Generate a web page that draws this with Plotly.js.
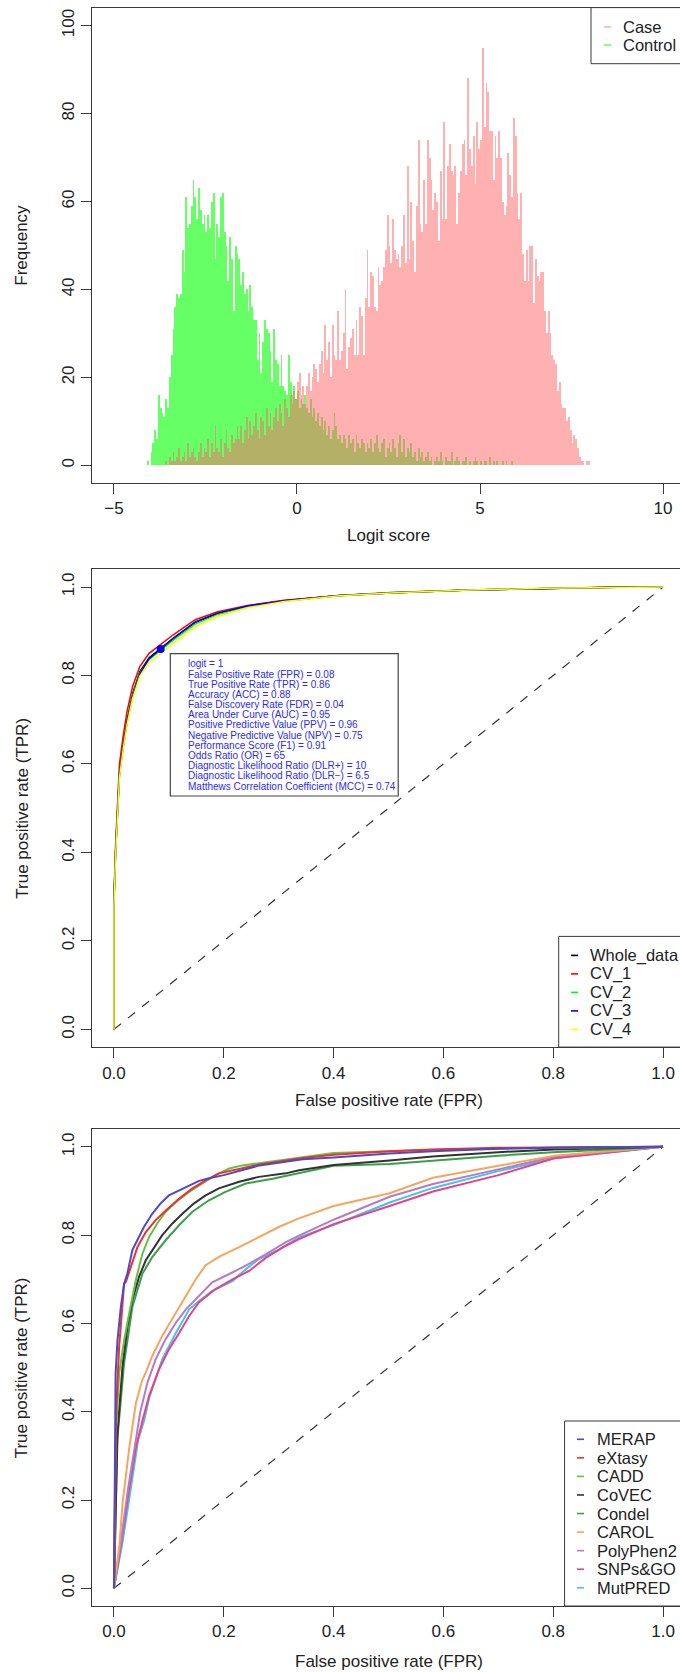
<!DOCTYPE html>
<html>
<head>
<meta charset="utf-8">
<script src="https://cdn.plot.ly/plotly-3.0.1.min.js"></script>
<style>
html,body{margin:0;padding:0;overflow:hidden;background:#fff;width:680px;height:1672px;}
#chart{width:720px;height:1672px;}
</style>
</head>
<body>
<div id="chart"></div>
<script>
// ---------------- DATA ----------------
// Panel 1: histogram of logit scores (bin width 0.05)
const binWidth = 0.05;
const controlStart = -4.10;
const controlCounts = [
 1,0,3,5,8,6,16,13,12,11,15,13,20,25,31,36,39,38,39,49,
 44,61,54,55,59,65,61,56,63,58,55,57,53,57,54,60,62,47,55,52,
 61,62,53,50,42,52,47,35,50,48,47,41,44,39,40,35,41,36,33,33,
 24,30,21,28,33,31,30,26,19,31,24,23,18,25,18,17,16,25,19,16,
 18,15,17,13,15,14,16,13,12,15,11,13,10,12,9,11,8,10,7,9,
 6,8,12,9,6,7,5,7,6,4,7,5,6,3,7,5,4,6,5,3,
 5,4,6,3,5,7,4,3,5,6,2,4,5,3,6,4,2,5,7,3,
 6,2,4,3,5,2,3,1,4,2,3,1,2,3,1,2,0,1,2,1,
 3,1,0,2,1,1,3,0,1,2,1,0,1,1,2,0,1,0,1,2,
 1,0,1,0,1,1,0,2,0,1,0,1,0,0,1,0,1,0,0,1
];
const caseStart = -3.60;
const caseCounts = [
 1,0,2,1,3,1,2,4,1,2,3,1,5,2,3,4,2,1,3,5,
 2,4,3,6,2,5,3,9,4,3,6,2,5,8,4,3,7,5,6,9,
 6,9,5,8,11,6,10,7,9,12,8,6,11,10,7,13,9,12,8,11,
 13,10,14,12,9,15,13,11,16,14,17,15,19,21,16,18,14,18,21,17,
 20,23,22,19,23,26,21,32,24,28,20,32,25,24,35,24,26,30,40,22,
 27,29,31,25,33,25,36,34,25,38,49,36,44,43,36,35,45,41,42,45,
 49,57,50,46,56,49,47,48,45,50,57,46,68,47,60,51,44,59,74,55,
 53,65,55,74,70,65,58,62,60,51,67,56,78,56,68,73,67,66,68,55,
 62,67,73,74,66,88,72,68,75,64,78,72,74,95,77,87,85,76,76,65,
 75,70,76,70,60,57,59,71,66,61,79,75,62,56,62,48,42,49,42,50,
 50,37,47,43,42,44,44,35,30,35,30,25,24,23,17,19,14,13,13,10,
 11,8,5,7,6,4,2,1,1,0,1,1
];
const histNames = ["Case", "Control"];
const histTicksX = [-5, 0, 5, 10];
const histTicksY = [0, 20, 40, 60, 80, 100];

// Panel 2: ROC of logit model (whole data and 4 CV folds)
const fprLogit = [0,0,0.003,0.007,0.01,0.017,0.024,0.034,0.047,0.064,0.086,0.108,0.148,0.189,0.243,0.31,0.411,0.513,0.647,0.782,0.917,1.0];
const tprWhole = [0,0.29,0.404,0.50,0.58,0.646,0.70,0.759,0.808,0.84,0.861,0.884,0.92,0.9405,0.9566,0.969,0.981,0.987,0.993,0.997,0.9996,1.0];
const tprCV1 = [0,0.30,0.42,0.52,0.60,0.665,0.72,0.775,0.82,0.85,0.87,0.892,0.926,0.944,0.958,0.970,0.981,0.988,0.993,0.997,1.0,1.0];
const tprCV2 = [0,0.28,0.40,0.49,0.575,0.64,0.695,0.755,0.805,0.836,0.858,0.88,0.916,0.938,0.955,0.968,0.98,0.987,0.993,0.997,0.9995,1.0];
const tprCV3 = [0,0.29,0.40,0.495,0.575,0.64,0.695,0.752,0.803,0.838,0.86,0.884,0.921,0.941,0.957,0.969,0.981,0.987,0.993,0.997,0.9996,1.0];
const tprCV4 = [0,0.28,0.395,0.49,0.57,0.635,0.69,0.748,0.798,0.83,0.85,0.873,0.91,0.934,0.953,0.967,0.98,0.987,0.993,0.997,0.9996,1.0];
const logitNames = ["Whole_data", "CV_1", "CV_2", "CV_3", "CV_4"];
const cutoffFPR = [0.085];
const cutoffTPR = [0.86];
const metricsText = [
 "logit = 1",
 "False Positive Rate (FPR) = 0.08",
 "True Positive Rate (TPR) = 0.86",
 "Accuracy (ACC) = 0.88",
 "False Discovery Rate (FDR) = 0.04",
 "Area Under Curve (AUC) = 0.95",
 "Positive Predictive Value (PPV) = 0.96",
 "Negative Predictive Value (NPV) = 0.75",
 "Performance Score (F1) = 0.91",
 "Odds Ratio (OR) = 65",
 "Diagnostic Likelihood Ratio (DLR+) = 10",
 "Diagnostic Likelihood Ratio (DLR\u2212) = 6.5",
 "Matthews Correlation Coefficient (MCC) = 0.74"
];
const diagX = [0, 1];
const diagY = [0, 1];
const rocTicks = [0, 0.2, 0.4, 0.6, 0.8, 1.0];

// Panel 3: ROC comparison of tools
const toolNames = ["MERAP","eXtasy","CADD","CoVEC","Condel","CAROL","PolyPhen2","SNPs&GO","MutPRED"];
const fprMERAP = [0,0.001,0.002,0.003,0.0064,0.0125,0.0185,0.0244,0.0335,0.0457,0.0548,0.07,0.085,0.1,0.119,0.137,0.155,0.173,0.2,0.265,0.344,0.4,0.502,0.58,0.7,0.85,1.0];
const tprMERAP = [0,0.2,0.34,0.487,0.562,0.637,0.69,0.713,0.766,0.796,0.819,0.849,0.872,0.89,0.902,0.913,0.923,0.929,0.936,0.958,0.972,0.976,0.985,0.99,0.996,0.999,1.0];
const fprExtasy = [0,0.002,0.004,0.0094,0.0185,0.022,0.0304,0.0427,0.058,0.076,0.0945,0.119,0.143,0.167,0.191,0.22,0.265,0.344,0.4,0.502,0.58,0.7,0.85,1.0];
const tprExtasy = [0,0.25,0.4,0.547,0.69,0.695,0.728,0.773,0.807,0.834,0.856,0.883,0.906,0.924,0.94,0.948,0.96,0.975,0.982,0.99,0.994,0.998,0.999,1.0];
const fprCADD = [0,0.002,0.003,0.0094,0.0185,0.0276,0.0397,0.0518,0.064,0.079,0.0945,0.113,0.137,0.161,0.185,0.21,0.234,0.277,0.32,0.4,0.5,0.6,0.8,1.0];
const tprCADD = [0,0.2,0.336,0.487,0.562,0.622,0.698,0.758,0.796,0.827,0.853,0.875,0.898,0.917,0.936,0.951,0.958,0.965,0.972,0.986,0.99,0.994,0.998,1.0];
const fprCoVEC = [0,0.003,0.0064,0.0155,0.0245,0.0336,0.0457,0.058,0.073,0.088,0.106,0.125,0.146,0.167,0.191,0.228,0.264,0.313,0.337,0.4,0.502,0.58,0.7,0.802,1.0];
const tprCoVEC = [0,0.2,0.351,0.502,0.592,0.653,0.706,0.743,0.773,0.800,0.826,0.849,0.872,0.890,0.906,0.921,0.932,0.94,0.947,0.959,0.969,0.978,0.988,0.994,1.0];
const fprCondel = [0,0.003,0.006,0.0185,0.0336,0.052,0.070,0.0945,0.119,0.143,0.173,0.203,0.240,0.289,0.337,0.4,0.502,0.58,0.7,0.8,1.0];
const tprCondel = [0,0.18,0.336,0.51,0.638,0.713,0.751,0.789,0.823,0.853,0.879,0.898,0.917,0.928,0.94,0.957,0.961,0.969,0.98,0.988,1.0];
const fprCAROL = [0,0.01,0.016,0.028,0.04,0.051,0.058,0.070,0.088,0.113,0.134,0.149,0.167,0.191,0.228,0.264,0.301,0.337,0.4,0.502,0.581,0.7,0.802,0.897,1.0];
const tprCAROL = [0,0.1,0.197,0.32,0.42,0.47,0.489,0.527,0.572,0.625,0.671,0.70,0.732,0.751,0.773,0.796,0.819,0.838,0.866,0.895,0.93,0.957,0.98,0.99,1.0];
const fprPolyPhen2 = [0,0.012,0.025,0.035,0.048,0.061,0.076,0.094,0.113,0.131,0.155,0.179,0.210,0.240,0.277,0.313,0.337,0.4,0.502,0.581,0.7,0.802,1.0];
const tprPolyPhen2 = [0,0.1,0.22,0.3,0.4,0.466,0.519,0.564,0.602,0.632,0.663,0.693,0.712,0.731,0.757,0.784,0.799,0.835,0.887,0.916,0.949,0.978,1.0];
const fprSNPsGO = [0,0.013,0.027,0.04,0.052,0.064,0.082,0.1,0.119,0.137,0.155,0.185,0.216,0.246,0.277,0.313,0.337,0.4,0.502,0.581,0.7,0.802,1.0];
const tprSNPsGO = [0,0.1,0.22,0.32,0.38,0.436,0.496,0.541,0.579,0.617,0.648,0.678,0.700,0.719,0.749,0.776,0.791,0.825,0.866,0.899,0.936,0.974,1.0];
const fprMutPRED = [0,0.015,0.03,0.044,0.055,0.064,0.088,0.113,0.137,0.155,0.179,0.197,0.216,0.240,0.264,0.301,0.337,0.4,0.502,0.581,0.7,0.802,1.0];
const tprMutPRED = [0,0.1,0.22,0.336,0.38,0.43,0.519,0.579,0.632,0.651,0.674,0.685,0.696,0.723,0.746,0.768,0.795,0.823,0.874,0.907,0.945,0.974,1.0];

// ---------------- STYLE / LAYOUT HELPERS ----------------
const FONT = "Liberation Sans, Arial, Helvetica, sans-serif";
const TXT = "#222";
const AXC = "#3a3a3a";
const M = {l: 92, r: 35, t: 8, b: 66};
const PW = 720 - M.l - M.r, PH = 1672 - M.t - M.b;
const xp = px => (px - M.l) / PW;
const yp = py => (1672 - M.b - py) / PH;

const histColors = ["rgba(255,100,100,0.5)", "rgba(0,255,0,0.6)"];
const logitColors = ["#000000", "#FF0000", "#00FF00", "#0000FF", "#FFFF00"];
const toolColors = ["#4B4BC8","#F22E2E","#66C244","#333333","#3C9E4A","#F5A65B","#B57BC8","#EE3F86","#3EC6F2"];

function axisBase(extra) {
  return Object.assign({
    showline: true, mirror: true, linecolor: AXC, linewidth: 1,
    ticks: "outside", ticklen: 10, tickwidth: 1, tickcolor: AXC,
    showgrid: false, zeroline: false,
    tickfont: {family: FONT, size: 17, color: TXT},
    fixedrange: true
  }, extra);
}

const traces = [];
// Histogram: control first, case on top (semi-transparent)
traces.push({type: "bar", name: histNames[1], y: controlCounts,
  x0: controlStart + binWidth / 2, dx: binWidth, width: binWidth,
  marker: {color: histColors[1], line: {width: 0}}, xaxis: "x", yaxis: "y"});
traces.push({type: "bar", name: histNames[0], y: caseCounts,
  x0: caseStart + binWidth / 2, dx: binWidth, width: binWidth,
  marker: {color: histColors[0], line: {width: 0}}, xaxis: "x", yaxis: "y"});

// Panel 2
traces.push({type: "scatter", mode: "lines", x: diagX, y: diagY, line: {color: "#333", width: 1.2, dash: "dash"}, xaxis: "x2", yaxis: "y2"});
const logitTPR = [tprWhole, tprCV1, tprCV2, tprCV3, tprCV4];
logitNames.forEach((n, i) => traces.push({type: "scatter", mode: "lines", name: n, x: fprLogit, y: logitTPR[i],
  line: {color: logitColors[i], width: 1.5}, xaxis: "x2", yaxis: "y2"}));
traces.push({type: "scatter", mode: "markers", x: cutoffFPR, y: cutoffTPR,
  marker: {color: "#0000FF", size: 8}, xaxis: "x2", yaxis: "y2"});

// Panel 3
traces.push({type: "scatter", mode: "lines", x: diagX, y: diagY, line: {color: "#333", width: 1.2, dash: "dash"}, xaxis: "x3", yaxis: "y3"});
const toolFPR = [fprMERAP, fprExtasy, fprCADD, fprCoVEC, fprCondel, fprCAROL, fprPolyPhen2, fprSNPsGO, fprMutPRED];
const toolTPR = [tprMERAP, tprExtasy, tprCADD, tprCoVEC, tprCondel, tprCAROL, tprPolyPhen2, tprSNPsGO, tprMutPRED];
for (let i = toolNames.length - 1; i >= 0; i--) {
  traces.push({type: "scatter", mode: "lines", name: toolNames[i], x: toolFPR[i], y: toolTPR[i],
    line: {color: toolColors[i], width: 2}, xaxis: "x3", yaxis: "y3"});
}

// Annotations & shapes
const ann = [];
const shp = [];
function label(text, px, py, angle) {
  ann.push({xref: "paper", yref: "paper", x: xp(px), y: yp(py), text: text, showarrow: false,
    textangle: angle || 0, xanchor: "center", yanchor: "middle",
    font: {family: FONT, size: 17, color: TXT}});
}
label("Frequency", 21.7, 245, -90);
label("Logit score", 388.5, 535);
label("True positive rate (TPR)", 21.7, 808, -90);
label("False positive rate (FPR)", 388.5, 1100);
label("True positive rate (TPR)", 21.7, 1367.6, -90);
label("False positive rate (FPR)", 388.5, 1661.8);

function legendBox(names, colors, box, markX0, markX1, textX, row0, step) {
  shp.push({type: "rect", xref: "paper", yref: "paper", x0: xp(box[0]), x1: xp(box[2]), y0: yp(box[3]), y1: yp(box[1]),
    line: {color: AXC, width: 1}, fillcolor: "#ffffff", layer: "above"});
  names.forEach((n, i) => {
    const y = row0 + step * i;
    shp.push({type: "line", xref: "paper", yref: "paper", x0: xp(markX0), x1: xp(markX1), y0: yp(y), y1: yp(y),
      line: {color: colors[i], width: 1.6}, layer: "above"});
    ann.push({xref: "paper", yref: "paper", x: xp(textX), y: yp(y), text: n, showarrow: false,
      xanchor: "left", yanchor: "middle", font: {family: FONT, size: 16.5, color: TXT}});
  });
}
legendBox(histNames, ["rgb(255,179,179)", "rgb(102,255,102)"], [591, 7.6, 720, 63.7], 604, 611, 621, 27, 18);
legendBox(logitNames, logitColors, [558.7, 936.4, 720, 1047.1], 571, 578, 588, 955.4, 18.5);
legendBox(toolNames, toolColors, [564.6, 1421, 720, 1606], 577, 584, 595, 1439.3, 18.56);

// Metrics box
shp.push({type: "rect", xref: "paper", yref: "paper", x0: xp(170.3), x1: xp(398.2), y0: yp(796), y1: yp(653.6),
  line: {color: "#444", width: 1.2}, fillcolor: "rgba(255,255,255,0)", layer: "above"});
metricsText.forEach((t, i) => {
  ann.push({xref: "paper", yref: "paper", x: xp(185.5), y: yp(663.9 + 10.18 * i), text: t, showarrow: false,
    xanchor: "left", yanchor: "middle", font: {family: FONT, size: 10, color: "#2a2aff"}});
});

const layout = {
  width: 720, height: 1672, margin: M,
  paper_bgcolor: "#ffffff", plot_bgcolor: "#ffffff",
  showlegend: false, barmode: "overlay", bargap: 0,
  font: {family: FONT, color: TXT},
  xaxis: axisBase({domain: [0, 1], range: [-5.6, 10.6], tickvals: histTicksX, anchor: "y"}),
  yaxis: axisBase({domain: [yp(483), 1], range: [-4, 104], tickvals: histTicksY, tickangle: -90, anchor: "x"}),
  xaxis2: axisBase({domain: [0, 1], range: [-0.04, 1.04], tickvals: rocTicks, tickformat: ".1f", anchor: "y2"}),
  yaxis2: axisBase({domain: [yp(1047.1), yp(569.3)], range: [-0.04, 1.04], tickvals: rocTicks, tickformat: ".1f", tickangle: -90, anchor: "x2"}),
  xaxis3: axisBase({domain: [0, 1], range: [-0.04, 1.04], tickvals: rocTicks, tickformat: ".1f", anchor: "y3"}),
  yaxis3: axisBase({domain: [0, yp(1129.2)], range: [-0.04, 1.04], tickvals: rocTicks, tickformat: ".1f", tickangle: -90, anchor: "x3"}),
  annotations: ann,
  shapes: shp
};

Plotly.newPlot("chart", traces, layout, {displayModeBar: false, staticPlot: true});
</script>
</body>
</html>
